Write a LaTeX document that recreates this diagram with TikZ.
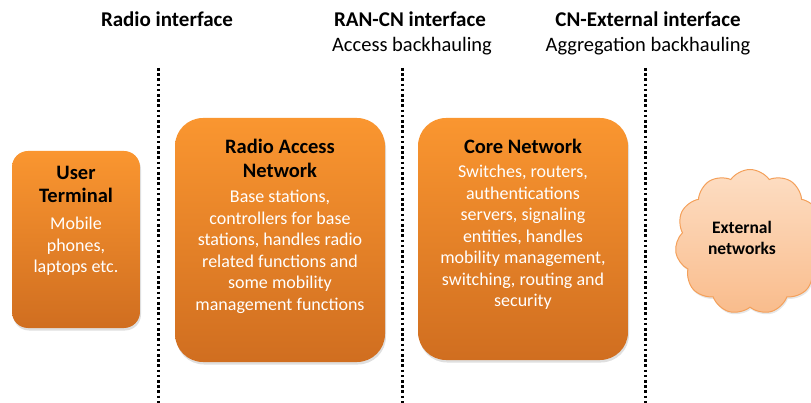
\documentclass[tikz,border=0pt]{standalone}
\usepackage{fontspec}
\setmainfont{Carlito}
\usetikzlibrary{shapes.symbols,shadows}
\definecolor{otop}{RGB}{250,150,48}
\definecolor{obot}{RGB}{208,110,32}
\definecolor{ctop}{RGB}{253,222,196}
\definecolor{cbot}{RGB}{249,188,140}
\definecolor{cline}{RGB}{244,160,90}
\tikzset{
  obox/.style={draw=none, rounded corners=#1, top color=otop, bottom color=obot,
    drop shadow={opacity=0.25, shadow xshift=1pt, shadow yshift=-2.5pt}},
  hdr/.style={font=\fontsize{21}{25}\selectfont\bfseries, anchor=base},
  sub/.style={font=\fontsize{20.5}{25}\selectfont, anchor=base},
  ttl/.style={font=\fontsize{20.5}{23.5}\selectfont\bfseries, align=center, text=black, inner sep=0pt},
  bdy/.style={font=\fontsize{18}{21.5}\selectfont, align=center, text=white, inner sep=0pt},
  sep/.style={line width=3pt, dash pattern=on 2.6pt off 2.6pt, black},
}
\begin{document}
\begin{tikzpicture}[x=1pt,y=-1pt]
\useasboundingbox (0,0) rectangle (811,403);
\clip (0,0) rectangle (811,403);
% headers
\node[hdr] (h1) at (167,27) {Radio interface};
\node[hdr] (h2) at (410,27) {RAN-CN interface};
\node[sub] (s2) at (412,52) {Access backhauling};
\node[hdr] (h3) at (648,27) {CN-External interface};
\node[sub] (s3) at (648,52) {Aggregation backhauling};
% separators
\coordinate (d1a) at (158,68); \coordinate (d1b) at (158,403);
\coordinate (d2a) at (402,68); \coordinate (d2b) at (402,403);
\coordinate (d3a) at (645,68); \coordinate (d3b) at (645,403);
\draw[sep] (d1a) -- (d1b);
\draw[sep] (d2a) -- (d2b);
\draw[sep] (d3a) -- (d3b);
% boxes
\path[obox=16pt] (12,151) rectangle (140,328);
\node[ttl, anchor=north] (utt) at (76,166) {User\\Terminal};
\node[bdy, anchor=north] (utb) at (76,217) {Mobile\\phones,\\laptops etc.};

\path[obox=28pt] (175,118) rectangle (385,362);
\node[ttl, anchor=north] (rant) at (280,139) {Radio Access\\Network};
\node[bdy, anchor=north] (ranb) at (280,190) {Base stations,\\controllers for base\\stations, handles radio\\related functions and\\some mobility\\management functions};

\path[obox=28pt] (418,118) rectangle (628,360);
\node[ttl, anchor=north] (cnt) at (523,139) {Core Network};
\node[bdy, anchor=north] (cnb) at (523,165) {Switches, routers,\\authentications\\servers, signaling\\entities, handles\\mobility management,\\switching, routing and\\security};

% cloud
\node[cloud, cloud puffs=11, cloud puff arc=110, aspect=1.05, minimum width=150pt, minimum height=145pt,
  draw=cline, line width=1pt, top color=ctop, bottom color=cbot,
  drop shadow={opacity=0.2, shadow xshift=1pt, shadow yshift=-2pt}] (ext) at (750,242) {};
\node[font=\fontsize{17.5}{21.5}\selectfont\bfseries, align=center, inner sep=0pt] (extt) at (742,238) {External\\networks};
\end{tikzpicture}
\end{document}
